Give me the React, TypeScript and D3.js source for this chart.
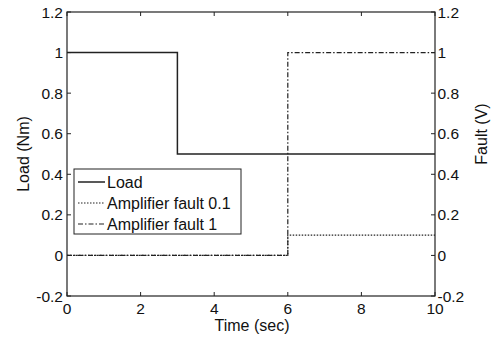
import React from "react";
import * as d3 from "d3";

const loadX = [0, 3, 3, 10];
const loadY = [1, 1, 0.5, 0.5];
const fault01X = [0, 6, 6, 10];
const fault01Y = [0, 0, 0.1, 0.1];
const fault1X = [0, 6, 6, 10];
const fault1Y = [0, 0, 1, 1];
const xTicks = [0, 2, 4, 6, 8, 10];
const yTicks = [-0.2, 0, 0.2, 0.4, 0.6, 0.8, 1, 1.2];
const legendLabels = ["Load", "Amplifier fault 0.1", "Amplifier fault 1"];

const W = 491, H = 339;
const L = 67, R = 435, T = 12, B = 296;

export default function App() {
  const x = d3.scaleLinear().domain([0, 10]).range([L, R]);
  const y = d3.scaleLinear().domain([-0.2, 1.2]).range([B, T]);
  const line = (xs: number[], ys: number[]) =>
    d3.line<number>().x((_, i) => x(xs[i])).y((d) => y(d))(ys) || "";
  const font = "Liberation Sans, Arial, Helvetica, sans-serif";
  const col = "#222";
  const series = [
    { d: line(loadX, loadY), dash: "none", w: 1.5 },
    { d: line(fault01X, fault01Y), dash: "1.5,1.5", w: 1.2 },
    { d: line(fault1X, fault1Y), dash: "5,2,1.5,2", w: 1.2 },
  ];
  const fmt = (v: number) => String(Math.round(v * 10) / 10);
  const fs = 15.5;
  return (
    <svg width={W} height={H} style={{ position: "absolute", left: 0, top: 0 }} fontFamily={font}>
      <rect x={0} y={0} width={W} height={H} fill="white" />
      {series.map((s, i) => (
        <path key={i} d={s.d} fill="none" stroke={col} strokeWidth={s.w} strokeDasharray={s.dash} />
      ))}
      <rect x={L} y={T} width={R - L} height={B - T} fill="none" stroke={col} strokeWidth={1.2} />
      {xTicks.map((t) => (
        <g key={"x" + t}>
          <line x1={x(t)} x2={x(t)} y1={B} y2={B - 4} stroke={col} />
          <line x1={x(t)} x2={x(t)} y1={T} y2={T + 4} stroke={col} />
          <text x={x(t)} y={313.5} fontSize={fs} textAnchor="middle" fill="#111">{t}</text>
        </g>
      ))}
      {yTicks.map((t) => (
        <g key={"y" + t}>
          <line x1={L} x2={L + 4} y1={y(t)} y2={y(t)} stroke={col} />
          <line x1={R} x2={R - 4} y1={y(t)} y2={y(t)} stroke={col} />
          <text x={63} y={y(t) + 5.5} fontSize={fs} textAnchor="end" fill="#111">{fmt(t)}</text>
          <text x={437.5} y={y(t) + 5.5} fontSize={fs} textAnchor="start" fill="#111">{fmt(t)}</text>
        </g>
      ))}
      <text x={(L + R) / 2 + 1} y={331} fontSize={16} textAnchor="middle" fill="#111">Time (sec)</text>
      <text transform={`translate(29,${(T + B) / 2}) rotate(-90)`} fontSize={16} textAnchor="middle" fill="#111">Load (Nm)</text>
      <text transform={`translate(487,134) rotate(-90)`} fontSize={16} textAnchor="middle" fill="#111">Fault (V)</text>
      <g>
        <rect x={74} y={169} width={167} height={65} fill="white" stroke={col} strokeWidth={1} />
        {legendLabels.map((lab, i) => {
          const yy = 182 + i * 21;
          return (
            <g key={lab}>
              <line x1={78} x2={105} y1={yy} y2={yy} stroke={col} strokeWidth={series[i].w} strokeDasharray={series[i].dash} />
              <text x={107} y={yy + 5.5} fontSize={16} fill="#111">{lab}</text>
            </g>
          );
        })}
      </g>
    </svg>
  );
}
